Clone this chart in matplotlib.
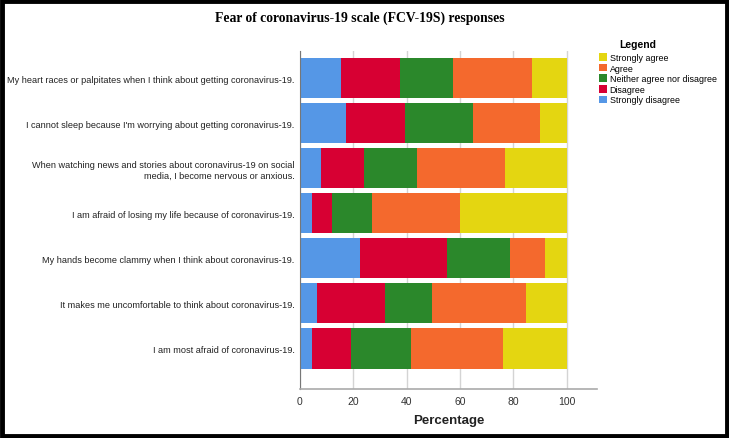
import matplotlib
matplotlib.use("Agg")
import matplotlib.pyplot as plt
from matplotlib.patches import Rectangle, Patch
import numpy as np

questions = [
    "My heart races or palpitates when I think about getting coronavirus-19.",
    "I cannot sleep because I'm worrying about getting coronavirus-19.",
    "When watching news and stories about coronavirus-19 on social\nmedia, I become nervous or anxious.",
    "I am afraid of losing my life because of coronavirus-19.",
    "My hands become clammy when I think about coronavirus-19.",
    "It makes me uncomfortable to think about coronavirus-19.",
    "I am most afraid of coronavirus-19.",
]
strongly_disagree = [15.2, 17.4, 7.7, 4.6, 22.6, 6.4, 4.4]
disagree = [22.3, 22.1, 16.4, 7.3, 32.5, 25.5, 14.9]
neither = [19.7, 25.4, 19.8, 15.0, 23.5, 17.6, 22.2]
agree = [29.9, 25.1, 33.0, 33.2, 13.3, 35.3, 34.8]
strongly_agree = [12.9, 10.0, 23.1, 39.9, 8.1, 15.2, 23.7]

categories = ["Strongly disagree", "Disagree", "Neither agree nor disagree",
              "Agree", "Strongly agree"]
colors = ["#5597e6", "#d70033", "#2b882b", "#f4692d", "#e4d611"]
series = [strongly_disagree, disagree, neither, agree, strongly_agree]

fig = plt.figure(figsize=(7.29, 4.39), dpi=100)
fig.patch.set_facecolor("white")
ax = fig.add_axes([0.4115, 0.1116, 0.819 - 0.4115, 0.8815 - 0.1116])

y = np.arange(len(questions))
left = np.zeros(len(questions))
for vals, col, name in zip(series, colors, categories):
    ax.barh(y, vals, left=left, height=0.89, color=col, label=name, zorder=2)
    left += np.array(vals)

ax.set_xlim(0, 111.4)
ax.set_ylim(6.9, -0.6)
ax.set_xticks([0, 20, 40, 60, 80, 100])
ax.set_yticks(y)
ax.set_yticklabels(questions, fontsize=6.6, color="#222222",
                   family="Liberation Sans")
for lbl in ax.get_yticklabels():
    lbl.set_multialignment("right")
ax.tick_params(axis="y", length=0, pad=4)
ax.tick_params(axis="x", length=0, pad=5, labelsize=7.5, colors="#333333")
for t in ax.get_xticklabels():
    t.set_family("Liberation Sans")
ax.xaxis.grid(True, color="#d4d4d4", linewidth=1, zorder=0)
ax.set_axisbelow(True)
ax.spines["top"].set_visible(False)
ax.spines["right"].set_visible(False)
ax.spines["left"].set_color("#777777")
ax.spines["bottom"].set_color("#aaaaaa")
ax.spines["bottom"].set_linewidth(1.2)
ax.set_xlabel("Percentage", fontsize=9.5, fontweight="bold",
              family="Liberation Sans", color="#222222", labelpad=6)

fig.text(0.494, 0.958, "Fear of coronavirus-19 scale (FCV-19S) responses",
         ha="center", va="center", fontsize=9.8, fontweight="bold",
         family="Liberation Serif")

fig.text(638 / 729, 1 - 45 / 439, "Legend", ha="center", va="center",
         fontsize=7.5, fontweight="bold", family="Liberation Sans")
handles = [Patch(facecolor=c, edgecolor="none") for c in colors][::-1]
leg = fig.legend(handles, categories[::-1], loc="upper left",
                 bbox_to_anchor=(0.812, 0.893), frameon=False,
                 handlelength=0.9, handleheight=0.95, handletextpad=0.3,
                 labelspacing=0.18, borderpad=0.3,
                 prop={"family": "Liberation Sans", "size": 6.4})

fig.patches.append(Rectangle((0.003, 0.004), 0.994, 0.991, transform=fig.transFigure,
                             fill=False, edgecolor="black", linewidth=3.5))

fig.savefig("out.png", dpi=100, facecolor=fig.get_facecolor())
